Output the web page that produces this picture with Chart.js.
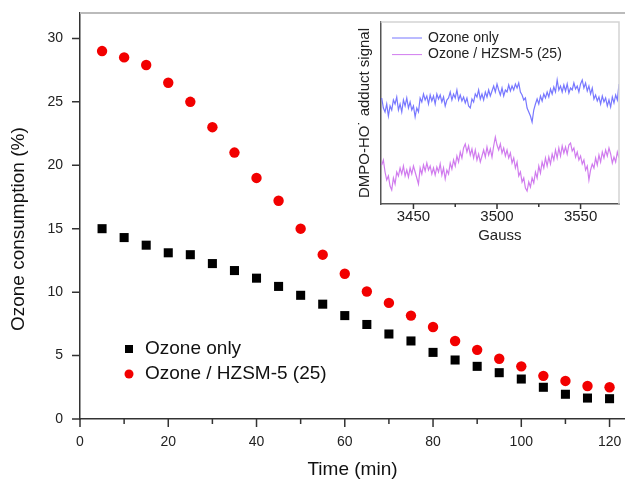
<!DOCTYPE html>
<html lang="en">
<head>
  <meta charset="UTF-8" />
  <title>Ozone consumption vs time</title>
  <script src="https://cdn.jsdelivr.net/npm/chart.js@4"></script>
  <style>
    body { margin: 0; background: #fff; }
    #wrap { position: relative; width: 625px; height: 481px; }
    #main { display: block; }
    #inset { position: absolute; left: 350px; top: 15px; background: #fff; }
  </style>
</head>
<body>
<div id="wrap">
  <canvas id="main" width="625" height="481"></canvas>
  <canvas id="inset" width="274" height="235"></canvas>
</div>

<script>
  // main plot: time (min) vs ozone consumption (%)
  const times = [5, 10, 15, 20, 25, 30, 35, 40, 45, 50, 55, 60, 65, 70, 75, 80, 85, 90, 95, 100, 105, 110, 115, 120];
  const ozoneOnly = [15.0, 14.3, 13.7, 13.1, 12.95, 12.25, 11.7, 11.1, 10.45, 9.75, 9.05, 8.15, 7.45, 6.7, 6.15, 5.25, 4.65, 4.15, 3.65, 3.15, 2.5, 1.95, 1.65, 1.6];
  const ozoneHzsm = [29.0, 28.5, 27.9, 26.5, 25.0, 23.0, 21.0, 19.0, 17.2, 15.0, 12.95, 11.45, 10.05, 9.15, 8.15, 7.25, 6.15, 5.45, 4.75, 4.15, 3.4, 3.0, 2.6, 2.5];

  // inset: DMPO-HO adduct signal vs field (Gauss), arbitrary units
  const insetGauss = [
    3431, 3432, 3433, 3434, 3435, 3436, 3437, 3438, 3439, 3440,
    3441, 3442, 3443, 3444, 3445, 3446, 3447, 3448, 3449, 3450,
    3451, 3452, 3453, 3454, 3455, 3456, 3457, 3458, 3459, 3460,
    3461, 3462, 3463, 3464, 3465, 3466, 3467, 3468, 3469, 3470,
    3471, 3472, 3473, 3474, 3475, 3476, 3477, 3478, 3479, 3480,
    3481, 3482, 3483, 3484, 3485, 3486, 3487, 3488, 3489, 3490,
    3491, 3492, 3493, 3494, 3495, 3496, 3497, 3498, 3499, 3500,
    3501, 3502, 3503, 3504, 3505, 3506, 3507, 3508, 3509, 3510,
    3511, 3512, 3513, 3514, 3515, 3516, 3517, 3518, 3519, 3520,
    3521, 3522, 3523, 3524, 3525, 3526, 3527, 3528, 3529, 3530,
    3531, 3532, 3533, 3534, 3535, 3536, 3537, 3538, 3539, 3540,
    3541, 3542, 3543, 3544, 3545, 3546, 3547, 3548, 3549, 3550,
    3551, 3552, 3553, 3554, 3555, 3556, 3557, 3558, 3559, 3560,
    3561, 3562, 3563, 3564, 3565, 3566, 3567, 3568, 3569, 3570,
    3571, 3572, 3573
  ];
  const signalOzone = [
    102, 92, 88, 96, 84, 94, 90, 100, 96, 103,
    90, 96, 88, 100, 94, 102, 92, 98, 90, 94,
    83, 92, 88, 102, 98, 106, 100, 104, 96, 105,
    99, 104, 96, 106, 101, 105, 98, 103, 94, 100,
    102, 108, 100, 106, 102, 110, 100, 105, 99, 103,
    97, 102, 94, 92, 101, 98, 106, 103, 110, 101,
    106, 100, 108, 103, 110, 104, 109, 114, 108, 116,
    110, 105, 112, 104, 110, 108, 115, 109, 114, 110,
    116, 112, 117, 108, 105, 100, 102, 92, 88, 84,
    78, 90, 96, 101, 96, 104, 99, 106, 102, 108,
    103, 111, 106, 113, 108, 120, 110, 114, 108, 115,
    109, 116, 107, 112, 110, 117, 111, 114, 108, 116,
    120, 112, 117, 109, 114, 106, 112, 101, 105, 99,
    103, 96, 104, 98, 102, 94, 100, 93, 103, 97,
    105, 100, 116
  ];
  const signalHzsm = [
    35, 40, 28, 20, 24, 14, 10, 22, 16, 28,
    24, 32, 26, 34, 24, 30, 23, 32, 26, 34,
    28, 22, 16, 32, 26, 35, 29, 37, 30, 34,
    26, 32, 25, 33, 28, 36, 25, 32, 21, 30,
    26, 37, 31, 40, 34, 44, 38, 48, 42, 52,
    56, 48, 54, 45, 51, 42, 50, 40, 46, 38,
    44, 50, 43, 53, 45, 51, 43, 54, 63, 55,
    50, 56, 47, 52, 44, 50, 42, 47, 37, 42,
    32, 38, 24, 28, 18, 22, 12, 9, 18, 13,
    22, 17, 28, 22, 34, 27, 38, 32, 42, 34,
    43, 36, 46, 40, 50, 42, 52, 44, 54, 47,
    53, 46, 55, 57, 49, 52, 43, 48, 40, 44,
    36, 40, 30, 34, 20, 30, 36, 32, 42, 35,
    45, 38, 48, 42, 50, 44, 52, 46, 37, 43,
    38, 48, 42
  ];

  const FONT = '"Liberation Sans", Arial, sans-serif';
  Chart.defaults.font.family = FONT;
  Chart.defaults.color = '#222';

  // tick marks drawn by hand so minor ticks can be shorter
  function tickMarks(axisId, majorEvery, majorLen, minorLen) {
    return {
      id: 'ticks_' + axisId,
      afterDraw(chart) {
        const s = chart.scales[axisId];
        const ctx = chart.ctx;
        ctx.save();
        ctx.strokeStyle = '#333';
        ctx.lineWidth = 1.5;
        ctx.beginPath();
        s.ticks.forEach(t => {
          const len = (t.value % majorEvery === 0) ? majorLen : minorLen;
          const p = s.getPixelForValue(t.value);
          if (s.isHorizontal()) {
            ctx.moveTo(p, s.top);
            ctx.lineTo(p, s.top + len);
          } else {
            ctx.moveTo(s.right, p);
            ctx.lineTo(s.right - len, p);
          }
        });
        ctx.stroke();
        ctx.restore();
      }
    };
  }

  // keep the plot edge where the axis range says, not where the labels push it
  function noLabelPadding(size) {
    return s => {
      if (s.isHorizontal()) s.height = size; else s.width = size;
      s.paddingLeft = 0; s.paddingRight = 0;
      s.paddingTop = 0; s.paddingBottom = 0;
    };
  }

  const topBorder = {
    id: 'topBorder',
    afterDraw(chart) {
      const a = chart.chartArea, ctx = chart.ctx;
      ctx.save();
      ctx.strokeStyle = '#bbb';
      ctx.lineWidth = 2;
      ctx.beginPath();
      ctx.moveTo(a.left, a.top);
      ctx.lineTo(a.right, a.top);
      ctx.stroke();
      ctx.restore();
    }
  };

  const mainLegend = {
    id: 'mainLegend',
    afterDraw(chart) {
      const ctx = chart.ctx;
      ctx.save();
      ctx.font = '19px ' + FONT;
      ctx.textBaseline = 'middle';
      chart.data.datasets.forEach((ds, i) => {
        const x = 129, y = 349 + i * 25;
        ctx.fillStyle = ds.backgroundColor;
        ctx.beginPath();
        if (ds.pointStyle === 'rect') {
          ctx.rect(x - 4, y - 4, 8, 8);
        } else {
          ctx.arc(x, y, 4.5, 0, Math.PI * 2);
        }
        ctx.fill();
        ctx.fillStyle = '#111';
        ctx.fillText(ds.label, 145, y);
      });
      ctx.restore();
    }
  };

  new Chart(document.getElementById('main'), {
    type: 'scatter',
    data: {
      datasets: [
        {
          label: 'Ozone only',
          data: times.map((t, i) => ({ x: t, y: ozoneOnly[i] })),
          pointStyle: 'rect',
          pointRadius: 6.4,
          backgroundColor: '#000',
          borderWidth: 0
        },
        {
          label: 'Ozone / HZSM-5 (25)',
          data: times.map((t, i) => ({ x: t, y: ozoneHzsm[i] })),
          pointStyle: 'circle',
          pointRadius: 5.2,
          backgroundColor: '#f20000',
          borderWidth: 0
        }
      ]
    },
    options: {
      responsive: false,
      animation: false,
      layout: { autoPadding: false, padding: { left: 6, top: 13, right: 0, bottom: 0 } },
      plugins: { legend: { display: false }, tooltip: { enabled: false } },
      scales: {
        x: {
          type: 'linear', min: 0, max: 123.5,
          afterFit: noLabelPadding(62),
          border: { color: '#333', width: 1.5 },
          grid: { display: false, drawTicks: false },
          ticks: {
            stepSize: 10, includeBounds: false, autoSkip: false, maxRotation: 0,
            padding: 15, font: { size: 14 },
            callback: v => (v % 20 === 0 ? String(v) : '')
          },
          title: { display: true, text: 'Time (min)', font: { size: 19 }, color: '#111', padding: { top: 0, bottom: 0 } }
        },
        y: {
          min: 0, max: 32,
          afterFit: noLabelPadding(74),
          border: { color: '#333', width: 1.5 },
          grid: { display: false, drawTicks: false },
          ticks: { stepSize: 5, includeBounds: false, padding: 17, font: { size: 14 } },
          title: { display: true, text: 'Ozone consumption (%)     ', font: { size: 19 }, color: '#111', padding: { top: 1, bottom: 0 } }
        }
      }
    },
    plugins: [tickMarks('x', 20, 8, 5), tickMarks('y', 5, 8, 8), topBorder, mainLegend]
  });

  const insetFrame = {
    id: 'insetFrame',
    afterDraw(chart) {
      const a = chart.chartArea, ctx = chart.ctx;
      ctx.save();
      ctx.strokeStyle = '#d4d4d4';
      ctx.lineWidth = 1.5;
      ctx.beginPath();
      ctx.moveTo(a.left, a.top);
      ctx.lineTo(a.right, a.top);
      ctx.lineTo(a.right, a.bottom);
      ctx.stroke();
      ctx.restore();
    }
  };

  const insetLegend = {
    id: 'insetLegend',
    afterDraw(chart) {
      const ctx = chart.ctx;
      ctx.save();
      ctx.font = '14px ' + FONT;
      ctx.textBaseline = 'middle';
      chart.data.datasets.forEach((ds, i) => {
        const y = 23 + i * 16.6;
        ctx.strokeStyle = ds.borderColor;
        ctx.lineWidth = 1;
        ctx.beginPath();
        ctx.moveTo(42, y);
        ctx.lineTo(72, y);
        ctx.stroke();
        ctx.fillStyle = '#222';
        ctx.fillText(ds.label, 78, y);
      });
      ctx.restore();
    }
  };

  new Chart(document.getElementById('inset'), {
    type: 'line',
    data: {
      datasets: [
        {
          label: 'Ozone only',
          data: insetGauss.map((g, i) => ({ x: g, y: signalOzone[i] })),
          borderColor: 'rgba(95, 95, 255, 0.85)',
          borderWidth: 1.2,
          pointRadius: 0,
          tension: 0
        },
        {
          label: 'Ozone / HZSM-5 (25)',
          data: insetGauss.map((g, i) => ({ x: g, y: signalHzsm[i] })),
          borderColor: 'rgba(200, 100, 235, 0.85)',
          borderWidth: 1.2,
          pointRadius: 0,
          tension: 0
        }
      ]
    },
    options: {
      responsive: false,
      animation: false,
      layout: { autoPadding: false, padding: { left: 0, top: 7, right: 5, bottom: 0 } },
      plugins: { legend: { display: false }, tooltip: { enabled: false } },
      scales: {
        x: {
          type: 'linear', min: 3430.4, max: 3573,
          afterFit: noLabelPadding(46),
          border: { color: '#555', width: 1.5 },
          grid: { display: false, drawTicks: false },
          ticks: {
            stepSize: 25, includeBounds: false, autoSkip: false, maxRotation: 0,
            padding: 3.5, font: { size: 15 },
            callback: v => (v % 50 === 0 ? String(v) : '')
          },
          title: { display: true, text: 'Gauss', font: { size: 15 }, color: '#222', padding: { top: 0, bottom: 5 } }
        },
        y: {
          min: -4, max: 178,
          afterFit: noLabelPadding(30.7),
          border: { color: '#555', width: 1.5 },
          grid: { display: false, drawTicks: false },
          ticks: { display: false },
          title: { display: true, text: 'DMPO-HO˙ adduct signal', font: { size: 15 }, color: '#222', padding: { top: 5.5, bottom: 0 } }
        }
      }
    },
    plugins: [tickMarks('x', 50, 5, 3), insetFrame, insetLegend]
  });
</script>
</body>
</html>
